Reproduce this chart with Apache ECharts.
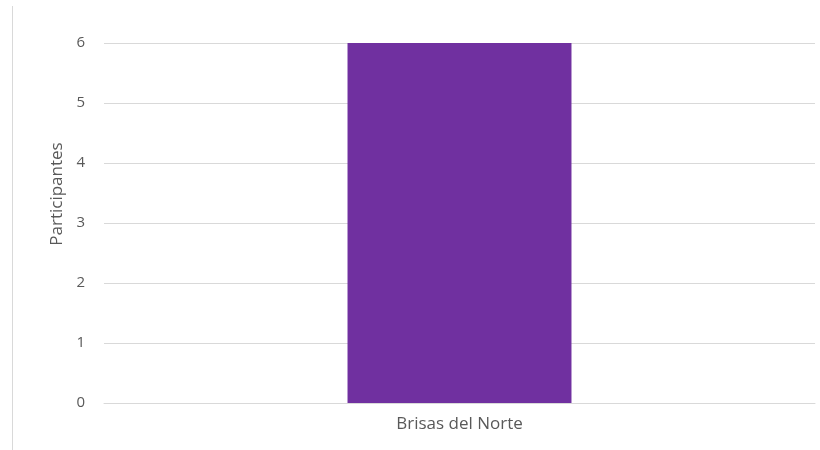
<!DOCTYPE html>
<html>
<head>
<meta charset="utf-8">
<script src="https://cdn.jsdelivr.net/npm/echarts@6/dist/echarts.min.js"></script>
<style>
  html, body { margin: 0; padding: 0; background: #fff; }
  #chart { width: 820px; height: 450px; }
</style>
</head>
<body>
<div id="chart"></div>
<script>
// datos
var categories = ['Brisas del Norte'];
var participantes = [6];
var yTicks = { min: 0, max: 6, interval: 1 };

var chart = echarts.init(document.getElementById('chart'));

chart.setOption({
	animation: false,
	grid: {
		top: 43,
		left: 104,
		right: 5,
		bottom: 47
	},
	// borde izquierdo del recuadro
	graphic: [{
		type: 'line',
		shape: { x1: 12.5, y1: 6, x2: 12.5, y2: 450 },
		style: { stroke: '#d9d9d9', lineWidth: 1 }
	}],
	xAxis: {
		type: 'category',
		data: categories,
		axisLine: { lineStyle: { color: '#d9d9d9' } },
		axisTick: { show: false },
		axisLabel: {
			color: '#595959',
			fontSize: 17,
			fontFamily: 'Open Sans',
			margin: 13
		}
	},
	yAxis: {
		type: 'value',
		min: yTicks.min,
		max: yTicks.max,
		interval: yTicks.interval,
		name: 'Participantes',
		nameLocation: 'middle',
		nameGap: 38,
		nameTextStyle: {
			color: '#595959',
			fontSize: 17,
			fontFamily: 'Open Sans',
			padding: [0, 0, 0, 58]
		},
		axisLine: { show: false },
		axisTick: { show: false },
		axisLabel: {
			color: '#595959',
			fontSize: 15,
			fontFamily: 'Open Sans',
			margin: 19
		},
		splitLine: { lineStyle: { color: '#d9d9d9' } }
	},
	series: [{
		name: 'Participantes',
		type: 'bar',
		barWidth: '31.5%',
		itemStyle: { color: '#7030a0' },
		data: participantes
	}]
});
</script>
</body>
</html>
